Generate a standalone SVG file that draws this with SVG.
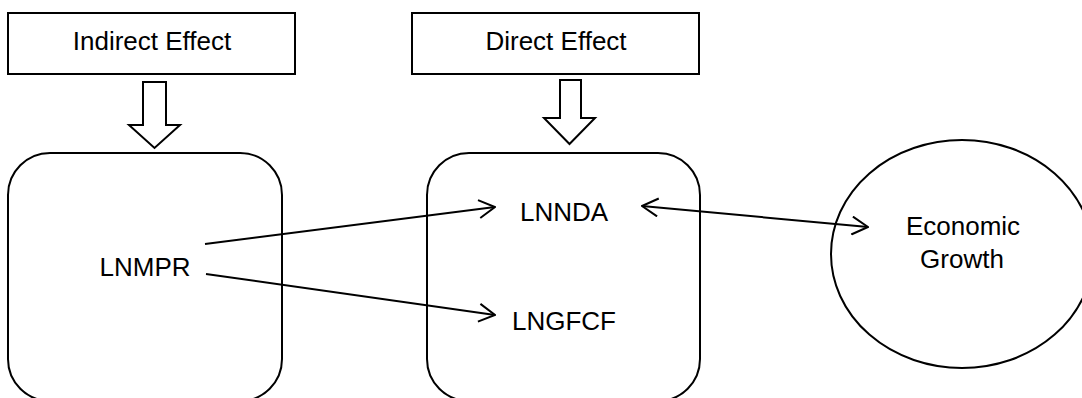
<svg xmlns="http://www.w3.org/2000/svg" width="1082" height="398" viewBox="0 0 1082 398">
<style>
.s{fill:#fff;stroke:#000;stroke-width:2}
.t{font-family:"Liberation Sans",Arial,sans-serif;font-size:26px;fill:#000;text-anchor:middle}
.c{fill:none;stroke:#000;stroke-width:2}
</style>
<defs>
<marker id="ah" viewBox="0 0 20 20" refX="19" refY="10" markerWidth="20" markerHeight="20" markerUnits="userSpaceOnUse" orient="auto-start-reverse">
<path d="M3,1 L19,10 L3,19" fill="none" stroke="#000" stroke-width="2"/>
</marker>
</defs>
<rect width="1082" height="398" fill="#fff"/>
<g id="indirect-effect">
<rect class="s" x="8" y="13" width="287" height="61"/>
<text class="t" x="152" y="50">Indirect Effect</text>
</g>
<g id="direct-effect">
<rect class="s" x="412" y="13" width="287" height="61"/>
<text class="t" x="556" y="50">Direct Effect</text>
</g>
<g id="down-arrow-1">
<path class="s" d="M143,82 H166 V125 H180 L154.5,148 L129,125 H143 Z"/>
</g>
<g id="down-arrow-2">
<path class="s" d="M560,80 H581 V118 H595 L569.5,144 L544,118 H560 Z"/>
</g>
<g id="lnmpr-box">
<rect class="s" x="8" y="153" width="274" height="248" rx="42" ry="42"/>
<text class="t" x="145" y="276">LNMPR</text>
</g>
<g id="direct-box">
<rect class="s" x="427" y="153" width="273" height="248" rx="42" ry="42"/>
<text class="t" x="564" y="221">LNNDA</text>
<text class="t" x="564" y="330">LNGFCF</text>
</g>
<g id="economic-growth">
<ellipse class="s" cx="962" cy="254" rx="131" ry="114"/>
<text class="t" x="963" y="235">Economic</text>
<text class="t" x="962" y="268">Growth</text>
</g>
<g id="connectors">
<line class="c" x1="205" y1="244" x2="495" y2="207" marker-end="url(#ah)"/>
<line class="c" x1="206" y1="274" x2="495" y2="315" marker-end="url(#ah)"/>
<line class="c" x1="642" y1="206" x2="868" y2="227" marker-start="url(#ah)" marker-end="url(#ah)"/>
</g>
</svg>
